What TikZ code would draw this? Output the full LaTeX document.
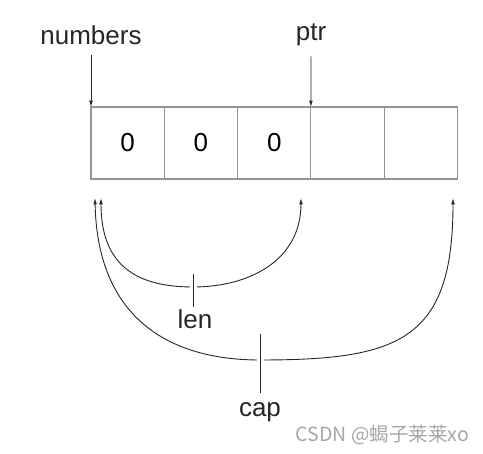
\documentclass[tikz,border=0pt]{standalone}
\usepackage{fontspec}
\setmainfont{Liberation Sans}
\newfontfamily\cjk{Noto Sans CJK SC}
\usetikzlibrary{arrows.meta,positioning}

\begin{document}
\begin{tikzpicture}[
      x=1pt, y=-1pt,
      font=\fontsize{26}{29}\selectfont,
      cell/.style={rectangle, draw=black!42, line width=1.1pt, minimum width=73.3pt, minimum height=72pt, inner sep=0pt, outer sep=0pt},
      label/.style={inner sep=0pt, text=black!85},
      pointer/.style={-{Latex[length=2.2mm, width=1.3mm]}, line width=0.8pt, black!85},
      span/.style={{Latex[length=2.2mm, width=1.3mm]}-{Latex[length=2.2mm, width=1.3mm]}, line width=0.9pt, black!85},
      tick/.style={line width=1pt, black!85, preaction={draw=white, line width=7pt}}
    ]
    \useasboundingbox (0,0) rectangle (483,454);

    \node[cell, anchor=north west] (c1) at (91,107) {0};
    \node[cell, right=0pt of c1] (c2) {0};
    \node[cell, right=0pt of c2] (c3) {0};
    \node[cell, right=0pt of c3] (c4) {};
    \node[cell, right=0pt of c4] (c5) {};

    \node[label] (numbers) at (91,35) {numbers};
    \node[label] (ptr) at (311,35) {ptr};
    \draw[pointer] ([yshift=-10pt]numbers.south) -- (c1.north west);
    \draw[pointer] ([yshift=-10pt]ptr.south) -- (c3.north east);

    \coordinate (lenL) at (101,198);
    \coordinate (lenR) at (301,198);
    \coordinate (capL) at (95,198);
    \coordinate (capR) at (453,198);

    \draw[span] (lenL) .. controls (101,260) and (130,287) .. (193,287)
                .. controls (250,287) and (301,260) .. (lenR);
    \draw[span] (capL) .. controls (97,310) and (160,360) .. (260,360)
                .. controls (400,360) and (453,340) .. (capR);

    \node[label, anchor=north] (len) at (195,309) {len};
    \node[label, anchor=north] (cap) at (260,402) {cap};
    \draw[tick] (193,274) -- (193,307);
    \draw[tick] (260,334) -- (260,393);

    \node[label, text=black!35, font=\cjk\fontsize{19.5}{22}\selectfont, anchor=east] (mark) at (469,435) {CSDN @蝎子莱莱xo};
  \end{tikzpicture}
\end{document}
